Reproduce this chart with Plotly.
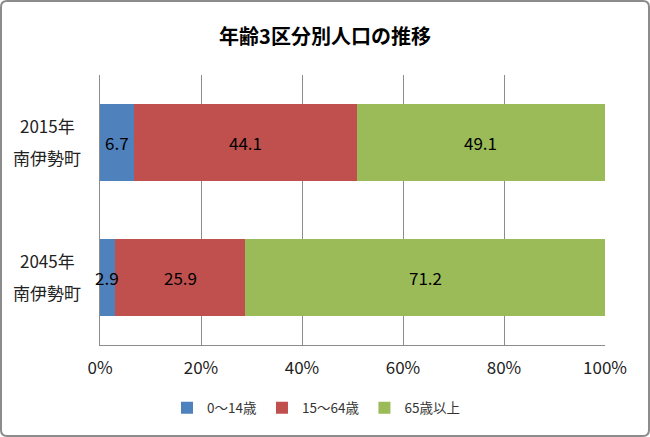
import plotly.graph_objects as go

cat_years = ["2015年", "2045年"]
cat_town = ["南伊勢町", "南伊勢町"]
categories = [f"{y}<br>{t}" for y, t in zip(cat_years, cat_town)]
series_names = ["0～14歳", "15～64歳", "65歳以上"]
age_0_14 = [6.7, 2.9]
age_15_64 = [44.1, 25.9]
age_65_plus = [49.1, 71.2]
x_tick_vals = [0, 20, 40, 60, 80, 100]
x_tick_text = ["0%", "20%", "40%", "60%", "80%", "100%"]

colors = ["#4F81BD", "#C0504D", "#9BBB59"]
FONT = "Noto Sans CJK JP"
series = [age_0_14, age_15_64, age_65_plus]

fig = go.Figure()
for name, vals, col in zip(series_names, series, colors):
    fig.add_trace(go.Bar(
        y=categories, x=vals, name=name, orientation="h",
        marker=dict(color=col, line=dict(width=0)),
        hoverinfo="skip",
    ))

# value labels (as annotations so they sit on top of every segment)
for i, cat in enumerate(categories):
    total = sum(s[i] for s in series)
    start = 0.0
    for s in series:
        v = s[i]
        mid = (start + v / 2) / total * 100
        fig.add_annotation(text=f"{v:.1f}", x=mid, y=cat, xref="x", yref="y",
                           showarrow=False, xanchor="center", yanchor="middle",
                           font=dict(family=FONT, size=17, color="#000000"))
        start += v

L, R, T, B = 100, 45, 75, 92
W, H = 650, 437
pw, ph = W - L - R, H - T - B
def px(x): return (x - L) / pw
def py(y): return (H - B - y) / ph

# rounded figure border
x0, x1, y0, y1, r = 1, W - 1, 1, H - 1, 6
path = (f"M {px(x0 + r)} {py(y0)} L {px(x1 - r)} {py(y0)} "
        f"Q {px(x1)} {py(y0)} {px(x1)} {py(y0 + r)} "
        f"L {px(x1)} {py(y1 - r)} Q {px(x1)} {py(y1)} {px(x1 - r)} {py(y1)} "
        f"L {px(x0 + r)} {py(y1)} Q {px(x0)} {py(y1)} {px(x0)} {py(y1 - r)} "
        f"L {px(x0)} {py(y0 + r)} Q {px(x0)} {py(y0)} {px(x0 + r)} {py(y0)} Z")
fig.add_shape(type="path", xref="paper", yref="paper", path=path,
              line=dict(color="#8c8c8c", width=2), layer="below")

# Two-line category labels, centred like the reference
for cat, yr, town in zip(categories, cat_years, cat_town):
    fig.add_annotation(text=yr, xref="paper", x=px(47), yref="y", y=cat,
                       yshift=17, showarrow=False, xanchor="center",
                       font=dict(family=FONT, size=17, color="#222222"))
    fig.add_annotation(text=town, xref="paper", x=px(47), yref="y", y=cat,
                       yshift=-15, showarrow=False, xanchor="center",
                       font=dict(family=FONT, size=17, color="#222222"))

fig.update_layout(
    width=W, height=H,
    barmode="stack", barnorm="percent", bargap=0.43,
    margin=dict(l=L, r=R, t=T, b=B, autoexpand=False),
    paper_bgcolor="white", plot_bgcolor="white",
    title=dict(text="<b>年齢3区分別人口の推移</b>", x=0.5, xref="container",
               y=1 - 37 / H, yanchor="middle",
               font=dict(family=FONT, size=20, color="#000000")),
    font=dict(family=FONT, color="#000000"),
    legend=dict(orientation="h", x=316 / W, xanchor="center", xref="container",
                y=1 - 408 / H, yref="container", yanchor="middle",
                font=dict(family=FONT, size=13.5, color="#333333"),
                itemwidth=30, traceorder="normal"),
    xaxis=dict(range=[0, 100], tickvals=x_tick_vals, ticktext=x_tick_text,
               showgrid=True, gridcolor="#8c8c8c", gridwidth=1,
               showline=True, linecolor="#8c8c8c", linewidth=1,
               zeroline=False, ticks="", ticklabelstandoff=8, automargin=False,
               tickfont=dict(family=FONT, size=17, color="#222222"),
               fixedrange=True),
    yaxis=dict(autorange="reversed", showline=True, linecolor="#8c8c8c",
               linewidth=1, showgrid=False, ticks="", showticklabels=False,
               automargin=False, fixedrange=True),
)

fig.write_html("out.html", config={"displayModeBar": False},
               post_script="document.body.style.margin='0';document.body.style.padding='0';")
